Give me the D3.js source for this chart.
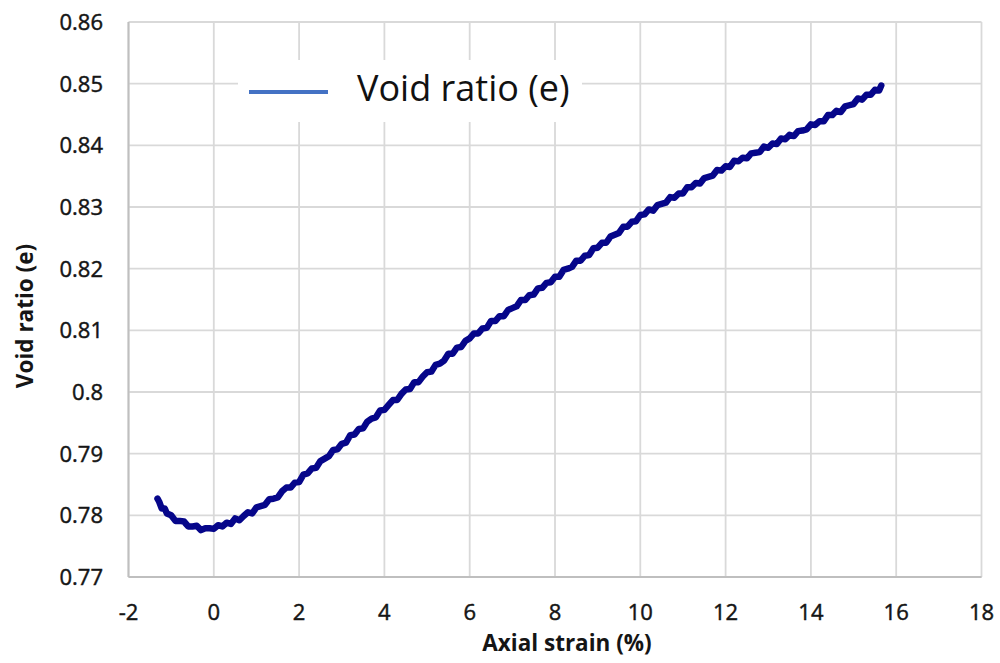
<!DOCTYPE html>
<html>
<head>
<meta charset="utf-8">
<script src="https://cdn.jsdelivr.net/npm/d3@7"></script>
<style>
  html, body { margin: 0; padding: 0; background: #fff; }
  svg { display: block; }
  .tick-label { font-family: "Open Sans", sans-serif; font-size: 22px; fill: #151515; stroke: #151515; stroke-width: 0.45px; }
  .axis-title { font-family: "Open Sans", sans-serif; font-size: 22.5px; font-weight: 700; fill: #151515; }
  .legend-text { font-family: "Open Sans", sans-serif; font-size: 36px; fill: #111; }
</style>
</head>
<body>
<svg id="chart" width="1000" height="663"></svg>
<script>
// Axial strain (%) readings
const strain = [
  -1.32, -1.28, -1.22, -1.15, -1.1, -1.0, -0.9, -0.8, -0.7, -0.6, -0.5, -0.4, -0.3, -0.2, -0.1,
  0.0, 0.1, 0.2, 0.3, 0.4, 0.5, 0.6, 0.7, 0.8, 0.9, 1.0, 1.1, 1.2, 1.3, 1.4, 1.5, 1.6, 1.7, 1.8, 1.9,
  2.0, 2.1, 2.2, 2.3, 2.4, 2.5, 2.6, 2.7, 2.8, 2.9, 3.0, 3.1, 3.2, 3.3, 3.4, 3.5, 3.6, 3.7, 3.8, 3.9,
  4.0, 4.1, 4.2, 4.3, 4.4, 4.5, 4.6, 4.7, 4.8, 4.9, 5.0, 5.1, 5.2, 5.3, 5.4, 5.5, 5.6, 5.7, 5.8, 5.9,
  6.0, 6.1, 6.2, 6.3, 6.4, 6.5, 6.6, 6.7, 6.8, 6.9, 7.0, 7.1, 7.2, 7.3, 7.4, 7.5, 7.6, 7.7, 7.8, 7.9,
  8.0, 8.1, 8.2, 8.3, 8.4, 8.5, 8.6, 8.7, 8.8, 8.9, 9.0, 9.1, 9.2, 9.3, 9.4, 9.5, 9.6, 9.7, 9.8, 9.9,
  10.0, 10.1, 10.2, 10.3, 10.4, 10.5, 10.6, 10.7, 10.8, 10.9, 11.0, 11.1, 11.2, 11.3, 11.4, 11.5, 11.6, 11.7, 11.8, 11.9,
  12.0, 12.1, 12.2, 12.3, 12.4, 12.5, 12.6, 12.7, 12.8, 12.9, 13.0, 13.1, 13.2, 13.3, 13.4, 13.5, 13.6, 13.7, 13.8, 13.9,
  14.0, 14.1, 14.2, 14.3, 14.4, 14.5, 14.6, 14.7, 14.8, 14.9, 15.0, 15.1, 15.2, 15.3, 15.4, 15.5, 15.6, 15.65
];

// Void ratio (e) at each strain reading
const voidRatio = [
  0.7827, 0.7822, 0.7811, 0.7811, 0.7803, 0.7800, 0.7791, 0.7791, 0.7790, 0.7782, 0.7782, 0.7783, 0.7776, 0.7779, 0.7779,
  0.7778, 0.7784, 0.7782, 0.7788, 0.7786, 0.7795, 0.7792, 0.7799, 0.7805, 0.7803, 0.7813, 0.7815, 0.7817, 0.7826, 0.7827, 0.7829, 0.7839, 0.7845, 0.7845, 0.7853,
  0.7854, 0.7866, 0.7868, 0.7876, 0.7877, 0.7888, 0.7892, 0.7896, 0.7906, 0.7907, 0.7916, 0.7918, 0.7930, 0.7931, 0.7940, 0.7941, 0.7952, 0.7957, 0.7959, 0.7970,
  0.7971, 0.7979, 0.7987, 0.7987, 0.7997, 0.8004, 0.8005, 0.8016, 0.8016, 0.8025, 0.8032, 0.8033, 0.8044, 0.8046, 0.8051, 0.8062, 0.8062, 0.8072, 0.8073, 0.8083,
  0.8087, 0.8095, 0.8095, 0.8103, 0.8104, 0.8115, 0.8115, 0.8123, 0.8123, 0.8133, 0.8136, 0.8139, 0.8149, 0.8149, 0.8157, 0.8158, 0.8168, 0.8169, 0.8177, 0.8178,
  0.8187, 0.8187, 0.8198, 0.8200, 0.8203, 0.8213, 0.8213, 0.8221, 0.8222, 0.8233, 0.8234, 0.8242, 0.8242, 0.8252, 0.8255, 0.8258, 0.8268, 0.8268, 0.8276, 0.8277,
  0.8287, 0.8288, 0.8296, 0.8294, 0.8303, 0.8305, 0.8307, 0.8316, 0.8315, 0.8322, 0.8322, 0.8332, 0.8332, 0.8339, 0.8338, 0.8347, 0.8349, 0.8351, 0.8360, 0.8359,
  0.8366, 0.8365, 0.8375, 0.8374, 0.8380, 0.8379, 0.8387, 0.8388, 0.8389, 0.8398, 0.8396, 0.8403, 0.8402, 0.8411, 0.8410, 0.8417, 0.8415, 0.8423, 0.8424, 0.8426,
  0.8434, 0.8433, 0.8439, 0.8439, 0.8449, 0.8449, 0.8456, 0.8454, 0.8463, 0.8465, 0.8467, 0.8476, 0.8474, 0.8482, 0.8482, 0.8490, 0.8489, 0.8497
];

const xTicks = [-2, 0, 2, 4, 6, 8, 10, 12, 14, 16, 18];
const yTicks = [0.77, 0.78, 0.79, 0.80, 0.81, 0.82, 0.83, 0.84, 0.85, 0.86];
const yTickLabels = ["0.77", "0.78", "0.79", "0.8", "0.81", "0.82", "0.83", "0.84", "0.85", "0.86"];

const seriesName = "Void ratio (e)";
const xTitle = "Axial strain (%)";
const yTitle = "Void ratio (e)";

const svg = d3.select("#chart");
const plot = { left: 128.5, right: 981.5, top: 22, bottom: 577 };

const x = d3.scaleLinear().domain([-2, 18]).range([plot.left, plot.right]);
const y = d3.scaleLinear().domain([0.77, 0.86]).range([plot.bottom, plot.top]);

// Gridlines
const grid = svg.append("g").attr("stroke", "#d9d9d9").attr("stroke-width", 1.8);
grid.selectAll("line.h").data(yTicks).join("line")
  .attr("x1", plot.left).attr("x2", plot.right)
  .attr("y1", d => y(d)).attr("y2", d => y(d));
grid.selectAll("line.v").data(xTicks).join("line")
  .attr("y1", plot.top).attr("y2", plot.bottom)
  .attr("x1", d => x(d)).attr("x2", d => x(d));

// Axis lines
svg.append("line")
  .attr("x1", plot.left).attr("x2", plot.left)
  .attr("y1", plot.top).attr("y2", plot.bottom)
  .attr("stroke", "#bfbfbf").attr("stroke-width", 2);
svg.append("line")
  .attr("x1", plot.left).attr("x2", plot.right)
  .attr("y1", plot.bottom).attr("y2", plot.bottom)
  .attr("stroke", "#bfbfbf").attr("stroke-width", 2);

// Tick labels
svg.append("g").selectAll("text").data(yTicks).join("text")
  .attr("class", "tick-label")
  .attr("x", 103)
  .attr("y", d => y(d))
  .attr("dy", "0.36em")
  .attr("text-anchor", "end")
  .text((d, i) => yTickLabels[i]);

svg.append("g").selectAll("text").data(xTicks).join("text")
  .attr("class", "tick-label")
  .attr("x", d => x(d))
  .attr("y", 620)
  .attr("text-anchor", "middle")
  .text(d => d);

// Axis titles
svg.append("text")
  .attr("class", "axis-title")
  .attr("x", 567).attr("y", 651)
  .attr("text-anchor", "middle")
  .text(xTitle);

svg.append("text")
  .attr("class", "axis-title")
  .attr("transform", "translate(33,316) rotate(-90)")
  .attr("text-anchor", "middle")
  .text(yTitle);

// Legend
const legend = svg.append("g");
legend.append("rect")
  .attr("x", 238).attr("y", 60).attr("width", 344).attr("height", 62)
  .attr("fill", "#fff");
legend.append("line")
  .attr("x1", 249).attr("x2", 328).attr("y1", 92).attr("y2", 92)
  .attr("stroke", "#4472c4").attr("stroke-width", 4);
legend.append("text")
  .attr("class", "legend-text")
  .attr("x", 357).attr("y", 101)
  .text(seriesName);

// Data curve
const points = strain.map((s, i) => [s, voidRatio[i]]);
const line = d3.line().x(d => x(d[0])).y(d => y(d[1]));
svg.append("path")
  .datum(points)
  .attr("d", line)
  .attr("fill", "none")
  .attr("stroke", "#06068a")
  .attr("stroke-width", 6.5)
  .attr("stroke-linejoin", "round")
  .attr("stroke-linecap", "round");
</script>
</body>
</html>
